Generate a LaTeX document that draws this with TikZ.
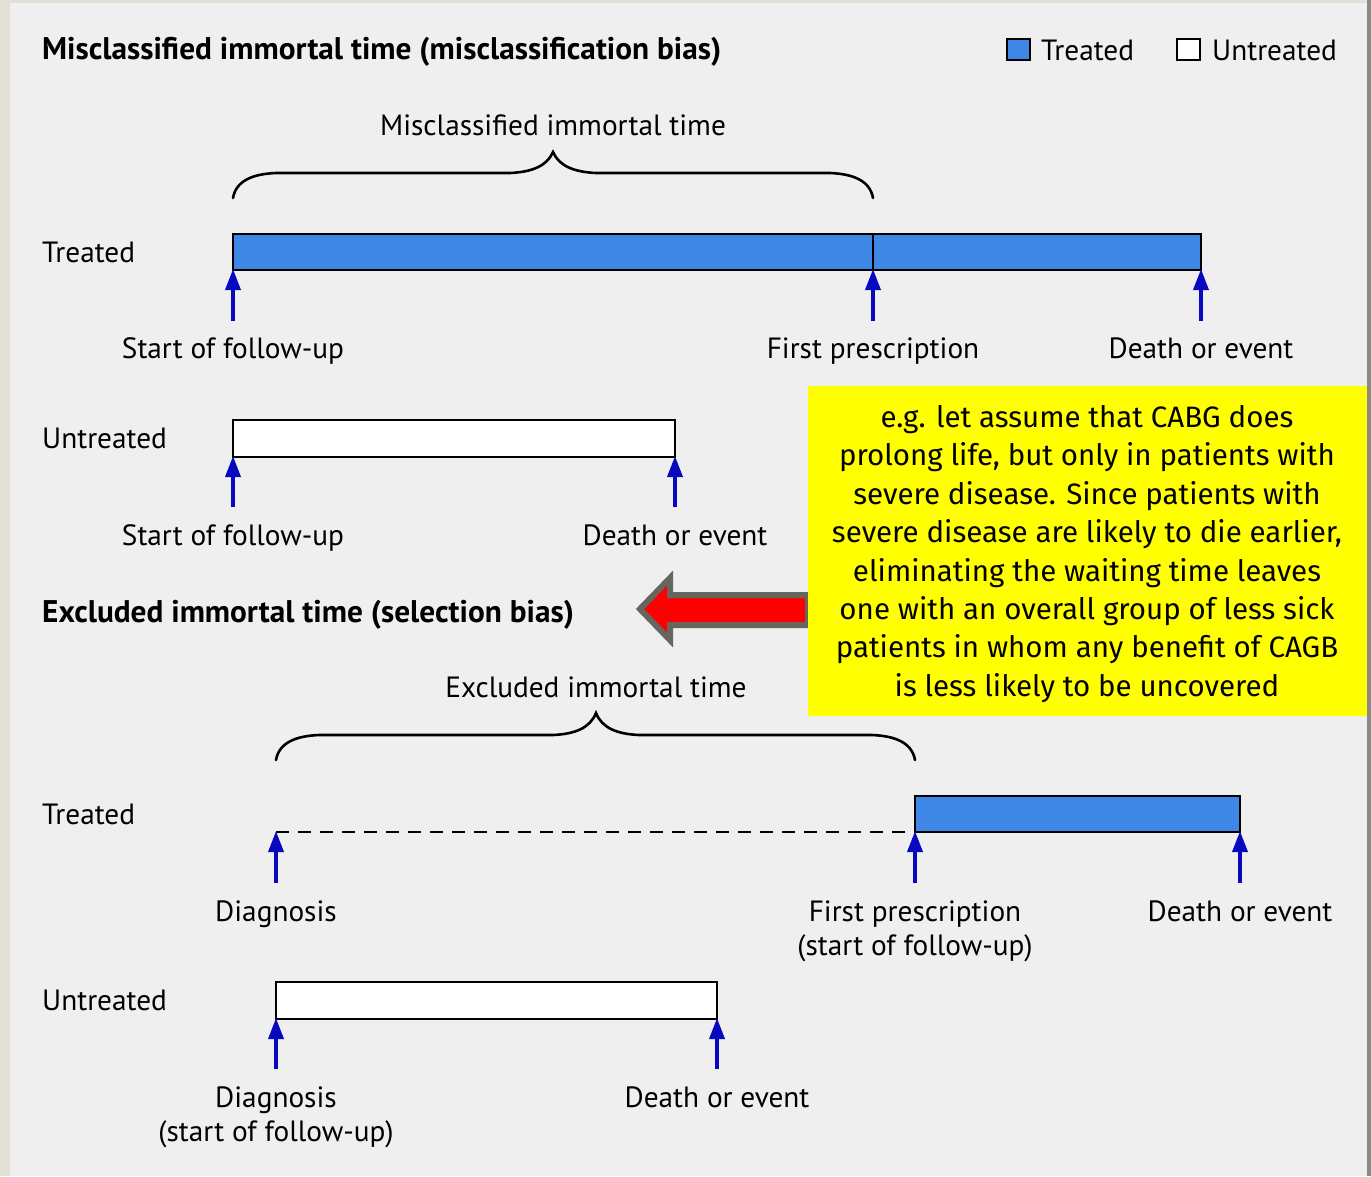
\documentclass[tikz,border=0pt]{standalone}
\usepackage{fontspec}
\setmainfont{PT Sans}
\newfontfamily\boxfont{Fira Sans}
\usetikzlibrary{arrows.meta}
\definecolor{bgc}{HTML}{EFEFEF}
\definecolor{edgel}{HTML}{E2DFD7}
\definecolor{edger}{HTML}{8A8A85}
\definecolor{barblue}{HTML}{3F87E6}
\definecolor{arrblue}{RGB}{8,8,190}
\definecolor{redfill}{RGB}{255,0,0}
\definecolor{redline}{HTML}{66665F}
\definecolor{yel}{RGB}{255,255,0}
\newcommand\labfont{\fontsize{29.3}{34}\selectfont}
\newcommand\titfont{\fontsize{31.3}{36}\selectfont\bfseries}
\begin{document}
\begin{tikzpicture}[x=1pt,y=-1pt,
  bar/.style={draw=black, line width=2.8pt, inner sep=0pt, outer sep=0pt, anchor=north west},
  uparr/.style={draw=arrblue, line width=3.6pt, -{Triangle[width=15pt,length=21pt]}, shorten >=-1pt},
  lab/.style={font=\labfont, inner sep=0pt, anchor=base},
  rowlab/.style={font=\labfont, inner sep=0pt, anchor=base west},
  tit/.style={font=\titfont, inner sep=0pt, anchor=base west},
  brace/.style={draw=black, line width=2.6pt, line cap=round},
  legbox/.style={draw=black, line width=2.6pt, minimum width=23pt, minimum height=21pt, inner sep=0pt, outer sep=0pt, anchor=north west}
]
\useasboundingbox (0,0) rectangle (1371,1176);
% background
\fill[bgc] (0,0) rectangle (1371,1176);
\fill[edgel] (0,0) rectangle (10,1176);
\fill[edgel] (0,0) rectangle (1371,3);
\fill[edger] (1367,0) rectangle (1371,1176);

% titles and legend
\node[tit] (title1) at (42,59) {Misclassified immortal time (misclassification bias)};
\node[legbox, fill=barblue] (legT) at (1007,39) {};
\node[rowlab] (legTt) at (1041,60) {Treated};
\node[legbox, fill=white] (legU) at (1177,39) {};
\node[rowlab] (legUt) at (1212,60) {Untreated};

% brace 1
\node[lab] (brace1lab) at (553,135) {Misclassified immortal time};
\draw[brace] (233,198) .. controls (236,181) and (252,174) .. (276,173) -- (510,173)
  .. controls (532,172) and (547,166) .. (553,152)
  .. controls (559,166) and (574,172) .. (596,173) -- (830,173)
  .. controls (854,174) and (870,181) .. (873,198);

% Treated row 1
\node[rowlab] (tr1) at (42,262) {Treated};
\node[bar, fill=barblue, minimum width=968pt, minimum height=36pt] (tbar1) at (233,234) {};
\coordinate (div1t) at (873,234);
\coordinate (div1b) at (873,270);
\draw[black, line width=2.8pt] (div1t) -- (div1b);
\coordinate (a11) at (233,321);
\coordinate (a12) at (873,321);
\coordinate (a13) at (1201,321);
\draw[uparr] (a11) -- (tbar1.south west);
\draw[uparr] (a12) -- (div1b);
\draw[uparr] (a13) -- (tbar1.south east);
\node[lab] (l11) at (233,358) {Start of follow-up};
\node[lab] (l12) at (873,358) {First prescription};
\node[lab] (l13) at (1201,358) {Death or event};

% Untreated row 1
\node[rowlab] (ut1) at (42,448) {Untreated};
\node[bar, fill=white, minimum width=442pt, minimum height=37pt] (ubar1) at (233,420) {};
\coordinate (a21) at (233,507);
\coordinate (a22) at (675,507);
\draw[uparr] (a21) -- (ubar1.south west);
\draw[uparr] (a22) -- (ubar1.south east);
\node[lab] (l21) at (233,545) {Start of follow-up};
\node[lab] (l22) at (675,545) {Death or event};

% title 2
\node[tit] (title2) at (42,622) {Excluded immortal time (selection bias)};

% red arrow
\draw[draw=redline, fill=redfill, line width=6pt, line join=miter]
  (808,595) -- (670,595) -- (670,578) -- (640,609) -- (670,640) -- (670,625) -- (808,625) -- cycle;

% yellow box
\fill[yel] (808,386) rectangle (1367,716);
\node[font=\boxfont\fontsize{29.5}{38.4}\selectfont, align=center, inner sep=0pt] (note) at (1087,554)
  {e.g. let assume that CABG does\\
   prolong life, but only in patients with\\
   severe disease. Since patients with\\
   severe disease are likely to die earlier,\\
   eliminating the waiting time leaves\\
   one with an overall group of less sick\\
   patients in whom any benefit of CAGB\\
   is less likely to be uncovered};

% brace 2
\node[lab] (brace2lab) at (596,697) {Excluded immortal time};
\draw[brace] (276,760) .. controls (279,743) and (295,736) .. (319,735) -- (553,735)
  .. controls (575,734) and (590,728) .. (596,713)
  .. controls (602,728) and (617,734) .. (639,735) -- (872,735)
  .. controls (896,736) and (912,743) .. (915,760);

% Treated row 2
\node[rowlab] (tr2) at (42,824) {Treated};
\coordinate (dstart) at (276,832);
\node[bar, fill=barblue, minimum width=325pt, minimum height=36pt] (tbar2) at (915,796) {};
\draw[black, line width=2.8pt, dash pattern=on 13pt off 9pt] (dstart) -- (tbar2.south west);
\coordinate (a31) at (276,883);
\coordinate (a32) at (915,883);
\coordinate (a33) at (1240,883);
\draw[uparr] (a31) -- (dstart);
\draw[uparr] (a32) -- (tbar2.south west);
\draw[uparr] (a33) -- (tbar2.south east);
\node[lab] (l31) at (276,921) {Diagnosis};
\node[lab] (l32) at (915,921) {First prescription};
\node[lab] (l32b) at (915,955) {(start of follow-up)};
\node[lab] (l33) at (1240,921) {Death or event};

% Untreated row 2
\node[rowlab] (ut2) at (42,1010) {Untreated};
\node[bar, fill=white, minimum width=441pt, minimum height=37pt] (ubar2) at (276,982) {};
\coordinate (a41) at (276,1069);
\coordinate (a42) at (717,1069);
\draw[uparr] (a41) -- (ubar2.south west);
\draw[uparr] (a42) -- (ubar2.south east);
\node[lab] (l41) at (276,1107) {Diagnosis};
\node[lab] (l41b) at (276,1141) {(start of follow-up)};
\node[lab] (l42) at (717,1107) {Death or event};
\end{tikzpicture}
\end{document}
